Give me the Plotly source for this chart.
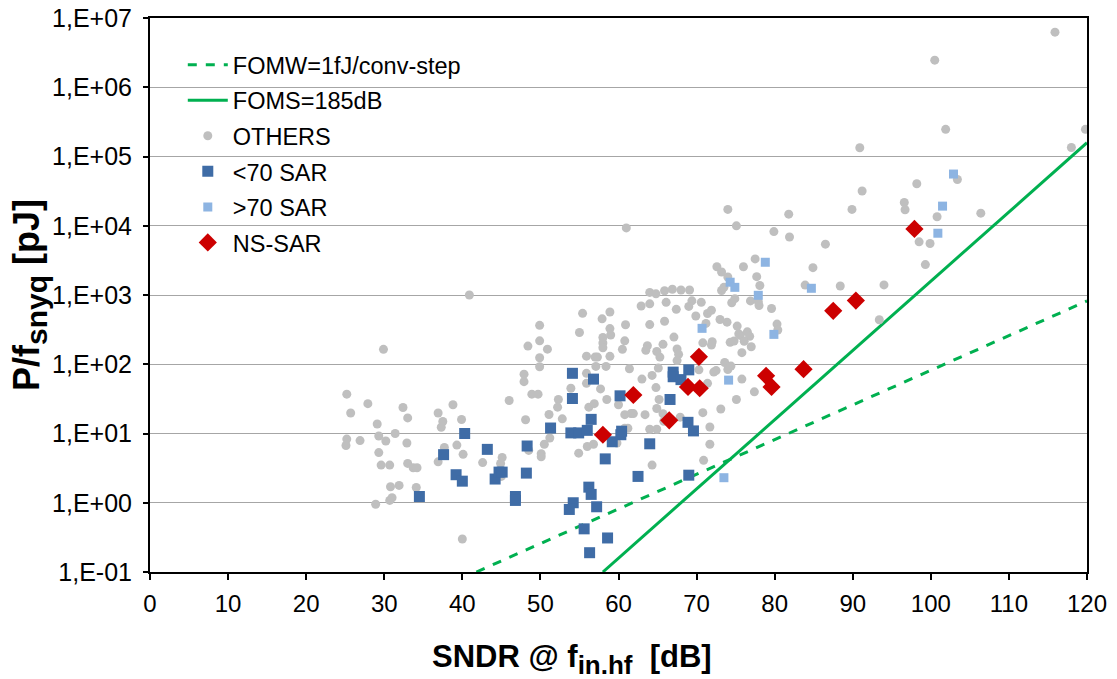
import plotly.graph_objects as go

# ---------------- data ----------------
others_sndr = [29.9, 25.2, 25.7, 27.9, 32.4, 33.0, 29.1, 29.3, 31.4, 30.2, 25.2, 25.1, 26.9, 32.9, 29.3, 29.6, 30.7, 33.0, 33.7, 34.2,
               30.8, 31.9, 30.7, 31.0, 28.9, 34.1, 36.9, 37.5, 37.3, 38.8, 39.9, 37.7, 39.3, 40.1, 36.9, 40.0, 42.6, 40.9,
               45.1, 44.9, 45.0, 46.0, 48.1, 47.9, 47.9, 48.4, 49.9, 49.9, 50.9, 49.9, 49.9, 48.9, 49.7, 50.5, 50.1, 50.1,
               48.5, 51.2, 51.1, 52.3, 52.2, 52.8,
               53.9, 55.9, 55.9, 57.7, 56.2, 56.9, 58.5, 60.0, 60.8, 61.6, 61.9, 63.4, 60.8, 61.2, 64.0, 64.9, 56.0, 56.8,
               54.9, 59.8, 64.3, 65.8, 65.7, 64.8, 65.2, 64.9, 63.0, 64.3, 65.1, 61.4, 55.9, 57.0, 57.3, 58.9, 57.1, 58.4,
               55.0, 58.9, 59.0, 58.0, 58.0, 58.0, 60.8, 60.5, 55.4, 58.9, 57.9, 60.9, 64.0, 62.9, 64.0, 64.0, 64.8, 63.7,
               63.5, 64.9, 65.3, 61.0, 67.9,
               65.9, 66.9, 68.0, 69.1, 66.1, 69.4, 69.0, 70.6, 67.4, 69.9, 71.4, 71.9, 65.9, 73.0, 73.9, 75.2, 71.2, 67.1,
               65.7, 67.5, 67.7, 70.8, 72.0, 71.9, 74.3, 74.8, 75.4, 75.6, 76.5, 76.8, 76.1, 77.0, 75.8, 67.5, 73.6, 74.0,
               74.4, 72.2, 72.5, 70.3, 71.4, 75.8, 75.1, 77.4, 73.1, 70.8, 71.7, 71.7, 70.9, 72.6, 73.2, 74.0, 76.0, 77.5,
               77.7, 78.1, 73.2, 73.5, 74.5, 74.9, 76.9, 77.9, 78.0, 79.6,
               79.9, 81.8, 81.9, 86.5, 84.9, 83.9, 88.4, 80.3, 80.4, 89.9, 91.2, 74.0, 75.1, 90.9, 98.2, 96.6, 96.7, 100.8,
               98.5, 99.9, 99.3, 94.0, 93.4, 103.4, 106.4, 115.9, 100.5, 101.9, 119.8, 118.0]
others_pj = [164, 37, 19.8, 27, 23.7, 16.8, 13.7, 9.2, 10.0, 7.8, 8.3, 6.7, 7.9, 7.3, 5.3, 3.5, 3.5, 3.7, 3.2, 3.2,
             1.7, 1.78, 1.08, 1.18, 0.95, 1.66, 19.8, 14.9, 12.3, 26, 15.9, 6.3, 6.8, 5.0, 3.9, 0.30, 3.8, 1000,
             4.5, 3.7, 2.4, 30, 15.8, 72, 56, 183, 365, 218, 165, 124, 92, 37, 37, 7.0, 5.1, 4.6,
             5.7, 8.6, 18.8, 31, 24, 16.3,
             45, 53, 74, 44, 24, 27, 31, 26, 18.7, 19.4, 19.4, 18.7, 11.9, 11.9, 11.5, 11.5, 6.5, 7.0,
             5.2, 7.3, 3.5, 15.0, 19.3, 46, 31, 23, 61, 69, 88, 86, 131, 127, 127, 130, 93, 93,
             287, 327, 264, 243, 203, 173, 218, 164, 543, 568, 453, 372, 374, 693, 746, 1090, 1040, 185,
             159, 153, 127, 9300, 17.2,
             1150, 1210, 1180, 1180, 784, 824, 684, 784, 621, 497, 540, 603, 418, 442, 405, 356, 389, 247,
             194, 166, 139, 204, 212, 190, 207, 217, 275, 261, 294, 253, 214, 179, 147, 113, 106, 84,
             94, 77, 81, 83, 53, 61, 31, 40, 22.6, 20, 12.4, 7.0, 4.1, 2560, 2150, 1820, 2560, 3320,
             1840, 1370, 1160, 1290, 774, 885, 822, 805, 705, 638,
             8240, 14700, 6890, 5420, 2480, 1390, 1350, 380, 312, 17200, 31700, 17200, 9970, 134000, 40400, 21700, 17000, 13500,
             5850, 5540, 2750, 1400, 439, 46600, 15200, 6250000, 2460000, 247000, 247000, 135000]

sar_lo_sndr = [34.5, 37.6, 39.2, 40.0, 40.3, 43.2, 44.2, 44.7, 45.1, 46.8, 46.8, 48.2, 48.3, 51.3, 54.1, 56.8, 54.1, 60.2,
               56.5, 53.9, 54.9, 56.0, 60.4, 60.3, 59.2, 58.3, 64.0, 62.5, 69.0, 56.2, 56.5, 54.2, 53.7, 57.2, 55.6, 58.6,
               56.3, 67.0, 67.0, 68.0, 69.0, 66.6, 68.9, 69.6]
sar_lo_pj = [1.23, 4.95, 2.54, 2.05, 10.0, 5.9, 2.2, 2.77, 2.77, 1.23, 1.08, 2.68, 6.6, 12.0, 74, 61, 32, 35,
             16, 10.2, 10.2, 11.1, 10.8, 9.6, 7.6, 4.3, 7.1, 2.4, 2.5, 1.68, 1.32, 1.0, 0.80, 0.875, 0.42, 0.31,
             0.19, 77, 66, 60, 83, 31, 14.5, 10.9]

sar_hi_sndr = [70.7, 73.5, 74.1, 74.3, 74.9, 77.9, 78.8, 79.9, 84.7, 100.9, 101.5, 102.9]
sar_hi_pj = [330, 2.3, 59, 1530, 1290, 990, 2970, 270, 1250, 7800, 19200, 55800]

ns_sndr = [58.0, 61.9, 66.5, 68.9, 70.3, 70.4, 78.9, 79.6, 83.7, 87.5, 90.4, 97.9]
ns_pj = [9.6, 36, 15.5, 47, 128, 45, 68, 47, 85, 590, 830, 9000]

# reference lines (end points)
fomw_sndr = [41.8, 120]
fomw_pj = [0.1, 820]
foms_sndr = [58.0, 120]
foms_pj = [0.1, 158000]

ytick_vals = [1e-1, 1e0, 1e1, 1e2, 1e3, 1e4, 1e5, 1e6, 1e7]
ytick_text = ["1,E-01", "1,E+00", "1,E+01", "1,E+02", "1,E+03", "1,E+04", "1,E+05", "1,E+06", "1,E+07"]
xtick_vals = list(range(0, 121, 10))

FONT = "Liberation Sans, Arial, sans-serif"
GREEN = "#00B050"

fig = go.Figure()
fig.add_trace(go.Scatter(x=fomw_sndr, y=fomw_pj, mode="lines", name="FOMW=1fJ/conv-step",
                         line=dict(color=GREEN, width=3, dash="dash"), legendgroup="a"))
fig.add_trace(go.Scatter(x=foms_sndr, y=foms_pj, mode="lines", name="FOMS=185dB",
                         line=dict(color=GREEN, width=3), legendgroup="b"))
fig.add_trace(go.Scatter(x=others_sndr, y=others_pj, mode="markers", name="OTHERS",
                         marker=dict(symbol="circle", size=9, color="#BFBFBF"), legendgroup="c"))
fig.add_trace(go.Scatter(x=sar_lo_sndr, y=sar_lo_pj, mode="markers", name="<70 SAR",
                         marker=dict(symbol="square", size=11, color="#3F6CA6"), legendgroup="d"))
fig.add_trace(go.Scatter(x=sar_hi_sndr, y=sar_hi_pj, mode="markers", name=">70 SAR",
                         marker=dict(symbol="square", size=9, color="#8DB4E2"), legendgroup="e"))
fig.add_trace(go.Scatter(x=ns_sndr, y=ns_pj, mode="markers", name="NS-SAR",
                         marker=dict(symbol="diamond", size=14, color="#CC0000"), legendgroup="f"))

fig.update_layout(
    width=1117, height=679,
    margin=dict(l=150, r=30, t=18, b=107),
    paper_bgcolor="white", plot_bgcolor="white",
    font=dict(family=FONT, color="black", size=22),
    showlegend=True,
    legend=dict(x=0.035, y=0.955, xanchor="left", yanchor="top", bgcolor="rgba(0,0,0,0)",
                font=dict(size=23.5, family=FONT), traceorder="grouped", tracegroupgap=2,
                itemwidth=40),
    xaxis=dict(range=[0, 120], tickvals=xtick_vals, showgrid=False, zeroline=False,
               showline=True, linecolor="black", linewidth=2, mirror=True, automargin=False,
               ticks="outside", ticklen=6, tickcolor="black", tickwidth=1.5,
               tickfont=dict(size=24, family=FONT), ticklabelstandoff=3),
    yaxis=dict(type="log", range=[-1, 7], tickvals=ytick_vals, ticktext=ytick_text,
               showgrid=True, gridcolor="#A6A6A6", gridwidth=1, zeroline=False,
               showline=True, linecolor="black", linewidth=2, mirror=True, automargin=False,
               ticks="outside", ticklen=5, tickcolor="black", tickwidth=1.5,
               tickfont=dict(size=25, family=FONT), ticklabelstandoff=6),
    annotations=[
        dict(text="<b>SNDR @ f<sub><span style='font-size:26px'>in.hf</span></sub>  [dB]</b>",
             xref="paper", yref="paper", x=0.45, y=0,
             xanchor="center", yanchor="middle", yshift=-87, showarrow=False,
             font=dict(size=31, family=FONT)),
        dict(text="<b>P/f<sub><span style='font-size:30px'>snyq</span></sub> [pJ]</b>",
             xref="paper", yref="paper", x=0, y=0.5,
             xanchor="center", yanchor="middle", xshift=-121, textangle=-90, showarrow=False,
             font=dict(size=36, family=FONT)),
    ],
)

fig.write_html("out.html")
